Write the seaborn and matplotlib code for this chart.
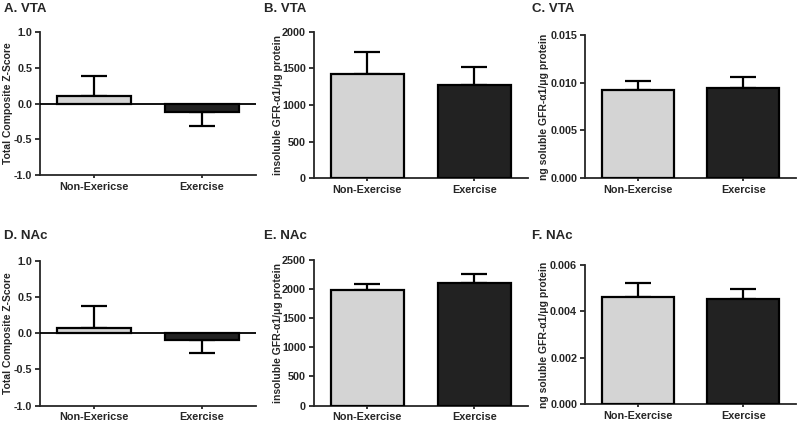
import matplotlib
matplotlib.use('agg')
import matplotlib.pyplot as plt
import seaborn as sns

# data (mean, upper/lower SEM end)
groups_ad = ['Non-Exericse', 'Exercise']
groups = ['Non-Exercise', 'Exercise']

vta_z = [0.10, -0.12]
vta_z_err = [0.29, 0.20]
vta_insol = [1420, 1275]
vta_insol_err = [305, 240]
vta_sol = [0.0092, 0.0094]
vta_sol_err = [0.0010, 0.0012]

nac_z = [0.07, -0.09]
nac_z_err = [0.30, 0.19]
nac_insol = [1990, 2100]
nac_insol_err = [90, 160]
nac_sol = [0.0046, 0.00455]
nac_sol_err = [0.0006, 0.00042]

colors = ['#d4d4d4', '#222222']

sns.set_style('ticks')
plt.rcParams['font.family'] = ['Liberation Sans', 'DejaVu Sans']
plt.rcParams['font.weight'] = 'bold'

fig = plt.figure(figsize=(8, 4.26), dpi=100)


def panel(rect, cats, means, errs, ylim, yticks, fmt, ylabel, title, title_xy, ylab_x):
    ax = fig.add_axes(rect)
    sns.barplot(x=cats, y=means, hue=cats, palette=colors, legend=False,
                width=0.68, edgecolor='black', linewidth=1.6, errorbar=None,
                ax=ax, zorder=3)
    lower = [0 if m >= 0 else e for m, e in zip(means, errs)]
    upper = [e if m >= 0 else 0 for m, e in zip(means, errs)]
    ax.errorbar([0, 1], means, yerr=[lower, upper], fmt='none', ecolor='black',
                elinewidth=1.6, capsize=9.5, capthick=1.6, zorder=2)
    ax.set_xlim(-0.5, 1.5)
    ax.set_ylim(*ylim)
    ax.set_yticks(yticks)
    ax.set_yticklabels([fmt.format(t) for t in yticks])
    if ylim[0] < 0:
        ax.axhline(0, color='black', lw=1.3, zorder=4)
    sns.despine(ax=ax)
    for s in ['left', 'bottom']:
        ax.spines[s].set_linewidth(1.3)
    ax.tick_params(labelsize=7.8, width=1.3, length=3.5, pad=2)
    ax.tick_params(axis='x', length=2.5, pad=2.5)
    for lab in ax.get_xticklabels() + ax.get_yticklabels():
        lab.set_fontweight('bold')
    ax.set_xlabel('')
    ax.set_ylabel('')
    fig.text(ylab_x, rect[1] + rect[3] / 2, ylabel, rotation=90, fontsize=7.5,
             fontweight='bold', ha='center', va='center')
    fig.text(title_xy[0], title_xy[1], title, fontsize=9.5, fontweight='bold',
             ha='left', va='center')
    return ax


z_ticks = [-1.0, -0.5, 0.0, 0.5, 1.0]
ylab_ins = 'insoluble GFR-\u03b11/\u03bcg protein'
ylab_sol = 'ng soluble GFR-\u03b11/\u03bcg protein'

panel([0.050, 0.589, 0.270, 0.336], groups_ad, vta_z, vta_z_err, (-1.0, 1.0),
      z_ticks, '{:.1f}', 'Total Composite Z-Score', 'A. VTA', (0.005, 0.980), 0.010)
panel([0.392, 0.582, 0.268, 0.343], groups, vta_insol, vta_insol_err, (0, 2000),
      [0, 500, 1000, 1500, 2000], '{:.0f}', ylab_ins, 'B. VTA', (0.330, 0.980), 0.347)
panel([0.731, 0.582, 0.264, 0.336], groups, vta_sol, vta_sol_err, (0, 0.015),
      [0, 0.005, 0.010, 0.015], '{:.3f}', ylab_sol, 'C. VTA', (0.665, 0.980), 0.680)

panel([0.050, 0.048, 0.270, 0.340], groups_ad, nac_z, nac_z_err, (-1.0, 1.0),
      z_ticks, '{:.1f}', 'Total Composite Z-Score', 'D. NAc', (0.005, 0.446), 0.010)
panel([0.392, 0.048, 0.268, 0.342], groups, nac_insol, nac_insol_err, (0, 2500),
      [0, 500, 1000, 1500, 2000, 2500], '{:.0f}', ylab_ins, 'E. NAc', (0.330, 0.446), 0.347)
panel([0.731, 0.052, 0.264, 0.326], groups, nac_sol, nac_sol_err, (0, 0.006),
      [0, 0.002, 0.004, 0.006], '{:.3f}', ylab_sol, 'F. NAc', (0.665, 0.446), 0.680)

fig.savefig('out.png', dpi=100)
